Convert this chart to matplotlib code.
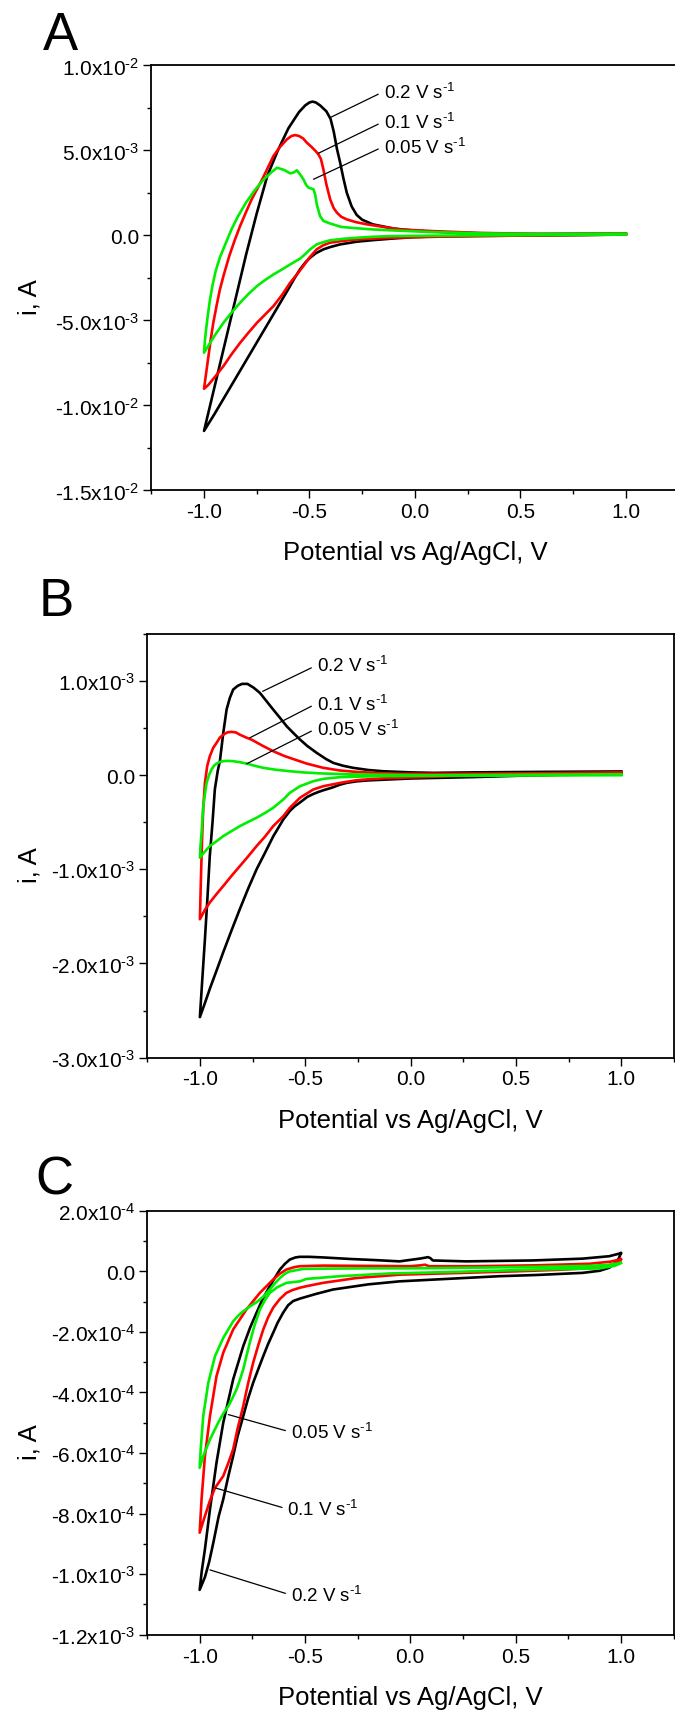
import numpy as np
import matplotlib
matplotlib.use("Agg")
import matplotlib.pyplot as plt
from matplotlib.ticker import MultipleLocator, FuncFormatter, FormatStrFormatter

plt.rcParams['font.family'] = ['Liberation Sans', 'DejaVu Sans']
plt.rcParams['mathtext.fontset'] = 'custom'
plt.rcParams['mathtext.rm'] = 'Liberation Sans'
plt.rcParams['mathtext.it'] = 'Liberation Sans:italic'
plt.rcParams['mathtext.bf'] = 'Liberation Sans:bold'
plt.rcParams['mathtext.default'] = 'regular'
plt.rcParams['axes.unicode_minus'] = False

# ---------------- DATA ----------------
rates = [r'0.2 V s$^{\text{-}1}$', r'0.1 V s$^{\text{-}1}$', r'0.05 V s$^{\text{-}1}$']

# Panel A  (current in mA)
A_black_up_x = [-1.0, -0.95, -0.9, -0.85, -0.8, -0.75, -0.7, -0.65, -0.6, -0.55, -0.52, -0.5, -0.486, -0.47, -0.45,
                -0.42, -0.40, -0.385, -0.37, -0.355, -0.34, -0.323, -0.30, -0.276, -0.25, -0.2, -0.1, 0.0, 0.2, 0.5, 1.0]
A_black_up_y = [-11.5, -8.9, -6.3, -3.7, -1.1, 1.3, 3.5, 5.0, 6.3, 7.25, 7.65, 7.82, 7.87, 7.82, 7.65,
                7.3, 6.85, 6.1, 5.1, 4.3, 3.4, 2.5, 1.7, 1.2, 0.92, 0.65, 0.4, 0.28, 0.15, 0.08, 0.1]
A_black_dn_x = [1.0, 0.6, 0.3, 0.1, 0.0, -0.1, -0.2, -0.276, -0.355, -0.4, -0.434, -0.47, -0.497, -0.52, -0.545,
                -0.57, -0.6, -0.65, -0.7, -0.75, -0.8, -0.85, -0.9, -0.95, -1.0]
A_black_dn_y = [0.05, 0.0, -0.03, -0.06, -0.1, -0.18, -0.28, -0.37, -0.53, -0.68, -0.82, -1.05, -1.31, -1.6, -2.0,
                -2.5, -3.15, -4.2, -5.25, -6.3, -7.35, -8.4, -9.45, -10.5, -11.5]

A_red_up_x = [-1.0, -0.99, -0.979, -0.968, -0.956, -0.94, -0.925, -0.908, -0.88, -0.855, -0.829, -0.8, -0.775,
              -0.749, -0.72, -0.695, -0.671, -0.64, -0.607, -0.585, -0.568, -0.55, -0.53, -0.513, -0.49, -0.47,
              -0.458, -0.446, -0.434, -0.42, -0.402, -0.385, -0.37, -0.35, -0.323, -0.28, -0.228, -0.15, -0.07,
              0.088, 0.3, 0.6, 1.0]
A_red_up_y = [-9.02, -8.1, -7.1, -6.1, -5.14, -4.1, -3.2, -2.39, -1.2, -0.3, 0.55, 1.4, 2.1,
              2.71, 3.4, 4.05, 4.67, 5.2, 5.65, 5.85, 5.9, 5.85, 5.7, 5.46, 5.2, 4.95,
              4.77, 4.5, 3.88, 3.0, 2.12, 1.6, 1.34, 1.1, 0.94, 0.78, 0.65, 0.5, 0.35,
              0.25, 0.15, 0.08, 0.1]
A_red_dn_x = [1.0, 0.6, 0.3, 0.1, -0.118, -0.2, -0.276, -0.34, -0.403, -0.435, -0.466, -0.5, -0.529, -0.56,
              -0.592, -0.63, -0.671, -0.71, -0.749, -0.79, -0.829, -0.87, -0.908, -0.95, -0.98, -1.0]
A_red_dn_y = [0.05, 0.0, -0.04, -0.08, -0.14, -0.19, -0.24, -0.32, -0.43, -0.58, -0.82, -1.3, -1.8, -2.3,
              -2.79, -3.5, -4.16, -4.65, -5.14, -5.73, -6.32, -7.0, -7.69, -8.35, -8.8, -9.02]

A_green_up_x = [-1.0, -0.996, -0.99, -0.982, -0.972, -0.96, -0.945, -0.925, -0.9, -0.87, -0.84, -0.8, -0.76,
                -0.72, -0.68, -0.654, -0.62, -0.592, -0.575, -0.56, -0.545, -0.529, -0.515, -0.505, -0.49, -0.481,
                -0.473, -0.465, -0.45, -0.434, -0.402, -0.35, -0.276, -0.2, -0.118, 0.072, 0.3, 0.6, 1.0]
A_green_up_y = [-6.9, -6.2, -5.5, -4.7, -3.8, -2.95, -2.1, -1.3, -0.55, 0.35, 1.1, 1.95, 2.65,
                3.25, 3.72, 3.98, 3.85, 3.65, 3.7, 3.83, 3.6, 3.3, 2.95, 2.81, 2.75, 2.71,
                2.4, 1.8, 1.14, 0.85, 0.7, 0.5, 0.42, 0.35, 0.3, 0.2, 0.12, 0.08, 0.1]
A_green_dn_x = [1.0, 0.6, 0.3, 0.072, -0.118, -0.2, -0.276, -0.34, -0.403, -0.435, -0.466, -0.497, -0.52, -0.545,
                -0.592, -0.63, -0.671, -0.71, -0.749, -0.79, -0.829, -0.87, -0.908, -0.95, -0.98, -1.0]
A_green_dn_y = [0.05, 0.02, 0.0, -0.02, -0.04, -0.08, -0.14, -0.2, -0.29, -0.4, -0.53, -0.82, -1.1, -1.37,
                -1.71, -2.0, -2.3, -2.62, -2.98, -3.45, -3.96, -4.55, -5.14, -5.9, -6.5, -6.9]

# Panel B  (current in mA)
B_black_up_x = [-1.0, -0.988, -0.976, -0.964, -0.953, -0.94, -0.929, -0.915, -0.905, -0.889, -0.873, -0.858, -0.842,
                -0.82, -0.8, -0.774, -0.745, -0.715, -0.685, -0.652, -0.62, -0.588, -0.555, -0.525, -0.49, -0.446,
                -0.4, -0.367, -0.32, -0.272, -0.2, -0.13, 0.0, 0.108, 0.3, 0.6, 1.0]
B_black_up_y = [-2.57, -2.15, -1.74, -1.3, -0.86, -0.5, -0.15, 0.05, 0.15, 0.45, 0.70, 0.82, 0.91,
                0.95, 0.97, 0.97, 0.93, 0.874, 0.79, 0.697, 0.61, 0.52, 0.445, 0.379, 0.31, 0.238,
                0.17, 0.131, 0.1, 0.078, 0.055, 0.042, 0.03, 0.025, 0.03, 0.035, 0.04]
B_black_dn_x = [1.0, 0.6, 0.3, 0.0, -0.1, -0.2, -0.256, -0.3, -0.335, -0.37, -0.414, -0.44, -0.462, -0.49, -0.525,
                -0.55, -0.573, -0.604, -0.652, -0.69, -0.731, -0.77, -0.81, -0.85, -0.889, -0.92, -0.953, -0.976, -1.0]
B_black_dn_y = [0.02, 0.0, -0.02, -0.035, -0.045, -0.055, -0.065, -0.08, -0.1, -0.13, -0.16, -0.18, -0.2, -0.23, -0.29,
                -0.33, -0.38, -0.47, -0.65, -0.82, -1.0, -1.2, -1.42, -1.65, -1.88, -2.07, -2.27, -2.42, -2.57]

B_red_up_x = [-1.0, -0.995, -0.99, -0.984, -0.976, -0.965, -0.953, -0.937, -0.921, -0.905, -0.889, -0.87, -0.85,
              -0.83, -0.81, -0.78, -0.755, -0.70, -0.652, -0.6, -0.573, -0.494, -0.414, -0.335, -0.256, -0.15,
              -0.05, 0.2, 0.6, 1.0]
B_red_up_y = [-1.53, -1.1, -0.7, -0.35, -0.08, 0.1, 0.2, 0.29, 0.343, 0.40, 0.43, 0.455, 0.46,
              0.455, 0.43, 0.40, 0.378, 0.31, 0.255, 0.205, 0.184, 0.124, 0.078, 0.05, 0.035, 0.022,
              0.015, 0.015, 0.02, 0.03]
B_red_dn_x = [1.0, 0.6, 0.2, 0.06, -0.098, -0.18, -0.256, -0.335, -0.414, -0.462, -0.525, -0.573, -0.604, -0.652,
              -0.69, -0.731, -0.77, -0.81, -0.85, -0.889, -0.92, -0.953, -0.976, -1.0]
B_red_dn_y = [0.01, 0.0, -0.01, -0.02, -0.03, -0.04, -0.053, -0.082, -0.117, -0.152, -0.24, -0.346, -0.435, -0.541,
              -0.65, -0.753, -0.86, -0.965, -1.07, -1.177, -1.26, -1.353, -1.43, -1.53]

B_green_up_x = [-1.0, -0.997, -0.992, -0.984, -0.976, -0.968, -0.957, -0.945, -0.933, -0.921, -0.905, -0.889, -0.865,
                -0.842, -0.81, -0.779, -0.74, -0.699, -0.64, -0.573, -0.5, -0.414, -0.256, 0.09, 0.5, 1.0]
B_green_up_y = [-0.876, -0.75, -0.611, -0.329, -0.2, -0.081, 0.0, 0.06, 0.1, 0.124, 0.14, 0.149, 0.152,
                0.149, 0.138, 0.124, 0.1, 0.078, 0.058, 0.042, 0.028, 0.018, 0.008, 0.0, 0.005, 0.01]
B_green_dn_x = [1.0, 0.5, 0.1, -0.177, -0.335, -0.414, -0.462, -0.525, -0.573, -0.604, -0.652, -0.69, -0.731, -0.77,
                -0.81, -0.85, -0.889, -0.92, -0.953, -0.976, -1.0]
B_green_dn_y = [0.0, -0.003, -0.006, -0.011, -0.021, -0.039, -0.064, -0.117, -0.187, -0.258, -0.346, -0.4, -0.452,
                -0.495, -0.541, -0.594, -0.647, -0.70, -0.753, -0.81, -0.876]

# Panel C  (current in 1e-4 A)
C_black_up_x = [-1.0, -0.99, -0.975, -0.951, -0.92, -0.888, -0.841, -0.793, -0.76, -0.73, -0.7, -0.667, -0.64, -0.619,
                -0.595, -0.572, -0.545, -0.525, -0.48, -0.414, -0.288, -0.161, -0.051, 0.044, 0.07, 0.083, 0.095,
                0.107, 0.265, 0.581, 0.818, 0.945, 1.0]
C_black_up_y = [-10.52, -9.9, -9.18, -7.86, -6.32, -5.0, -3.57, -2.47, -1.85, -1.37, -0.9, -0.49, -0.18, 0.06,
                0.25, 0.39, 0.46, 0.48, 0.48, 0.46, 0.41, 0.37, 0.33, 0.42, 0.45, 0.47, 0.44,
                0.36, 0.33, 0.36, 0.42, 0.5, 0.6]
C_black_dn_x = [1.0, 0.99, 0.97, 0.945, 0.9, 0.818, 0.6, 0.423, 0.2, -0.051, -0.2, -0.367, -0.45, -0.524, -0.556,
                -0.58, -0.604, -0.63, -0.651, -0.675, -0.698, -0.72, -0.746, -0.77, -0.793, -0.82, -0.841, -0.865,
                -0.888, -0.91, -0.935, -0.955, -0.975, -1.0]
C_black_dn_y = [0.6, 0.42, 0.25, 0.12, 0.02, -0.05, -0.12, -0.16, -0.24, -0.33, -0.43, -0.6, -0.75, -0.9, -0.98,
                -1.12, -1.37, -1.7, -2.03, -2.4, -2.8, -3.2, -3.68, -4.2, -4.78, -5.45, -6.1, -6.8,
                -7.53, -8.1, -8.96, -9.6, -10.1, -10.52]

C_red_up_x = [-1.0, -0.991, -0.975, -0.951, -0.92, -0.888, -0.841, -0.778, -0.714, -0.651, -0.62, -0.588, -0.55,
              -0.525, -0.414, -0.2, 0.0, 0.05, 0.07, 0.09, 0.3, 0.6, 0.85, 0.95, 1.0]
C_red_up_y = [-8.63, -7.53, -6.1, -4.78, -3.46, -2.69, -1.92, -1.26, -0.71, -0.27, -0.08, 0.06, 0.14,
              0.17, 0.19, 0.18, 0.17, 0.2, 0.22, 0.17, 0.17, 0.2, 0.25, 0.32, 0.4]
C_red_dn_x = [1.0, 0.99, 0.97, 0.898, 0.7, 0.5, 0.2, -0.051, -0.256, -0.414, -0.493, -0.524, -0.56, -0.588, -0.62,
              -0.651, -0.675, -0.698, -0.72, -0.746, -0.77, -0.793, -0.82, -0.841, -0.865, -0.888, -0.927, -0.95,
              -0.975, -1.0]
C_red_dn_y = [0.4, 0.32, 0.25, 0.12, 0.05, 0.0, -0.06, -0.11, -0.22, -0.38, -0.49, -0.54, -0.62, -0.71, -0.92,
              -1.2, -1.52, -1.92, -2.4, -3.02, -3.7, -4.45, -5.2, -5.88, -6.35, -6.76, -7.15, -7.55,
              -8.08, -8.63]

C_green_up_x = [-1.0, -0.995, -0.983, -0.959, -0.927, -0.888, -0.841, -0.815, -0.793, -0.76, -0.73, -0.7, -0.667,
                -0.643, -0.619, -0.595, -0.572, -0.509, -0.414, -0.2, 0.0, 0.3, 0.6, 0.85, 0.95, 1.0]
C_green_up_y = [-6.49, -5.88, -4.78, -3.68, -2.8, -2.2, -1.65, -1.45, -1.32, -1.15, -1.02, -0.85, -0.6,
                -0.4, -0.22, -0.08, 0.0, 0.08, 0.09, 0.1, 0.1, 0.12, 0.15, 0.18, 0.22, 0.28]
C_green_dn_x = [1.0, 0.99, 0.97, 0.9, 0.6, 0.2, -0.098, -0.335, -0.493, -0.524, -0.588, -0.63, -0.667, -0.69, -0.714,
                -0.74, -0.762, -0.778, -0.793, -0.81, -0.825, -0.845, -0.864, -0.888, -0.912, -0.951, -0.983, -1.0]
C_green_dn_y = [0.28, 0.24, 0.18, 0.1, 0.06, -0.02, -0.07, -0.16, -0.25, -0.33, -0.38, -0.52, -0.71, -0.95, -1.26,
                -1.8, -2.36, -2.8, -3.24, -3.6, -3.9, -4.2, -4.45, -4.7, -5.0, -5.55, -6.1, -6.49]

A_ylim = (-1.5e-2, 1.0e-2)
B_ylim = (-3.0e-3, 1.5e-3)
C_ylim = (-1.2e-3, 2.0e-4)
xlim = (-1.25, 1.25)

# ---------------- STYLE ----------------
BLACK = '#000000'
RED = '#ff0000'
GREEN = '#00ee00'
LW = 1.9

fig = plt.figure(figsize=(6.75, 17.15), dpi=100)
W, H = 675.0, 1715.0


def make_axes(left, top, right, bottom):
    return fig.add_axes([left / W, 1 - bottom / H, (right - left) / W, (bottom - top) / H])


def sci_fmt(v, pos):
    if abs(v) < 1e-12:
        return '0.0'
    e = int(np.floor(np.log10(abs(v)) + 1e-9))
    m = v / 10.0 ** e
    sign = r'\text{-}' if e < 0 else ''
    return f'{m:.1f}x10$^{{{sign}{abs(e)}}}$'


def style_axes(ax, ylim, major, minor, ylab_x):
    ax.set_xlim(*xlim)
    ax.set_ylim(*ylim)
    ax.xaxis.set_major_locator(MultipleLocator(0.5))
    ax.xaxis.set_minor_locator(MultipleLocator(0.25))
    ax.xaxis.set_major_formatter(FormatStrFormatter('%.1f'))
    ax.yaxis.set_major_locator(MultipleLocator(major))
    ax.yaxis.set_minor_locator(MultipleLocator(minor))
    ax.yaxis.set_major_formatter(FuncFormatter(sci_fmt))
    ax.tick_params(which='both', direction='out', top=False, right=False, width=1.0, pad=3,
                   labelsize=15)
    ax.tick_params(which='major', length=5.5)
    ax.tick_params(which='minor', length=3)
    for s in ax.spines.values():
        s.set_linewidth(1.3)
    ax.set_xlabel('Potential vs Ag/AgCl, V', fontsize=18.5)
    ax.set_ylabel('i, A', fontsize=18.5)
    h = ax.get_position().height * H
    ax.xaxis.set_label_coords(0.5, -50.0 / h)
    ax.yaxis.set_label_coords(ylab_x, 0.457)


def cv(ax, xu, yu, xd, yd, scale, color):
    x = np.concatenate([np.asarray(xd), np.asarray(xu)])
    y = np.concatenate([np.asarray(yd), np.asarray(yu)]) * scale
    ax.plot(x, y, color=color, lw=LW, solid_joinstyle='round')


def note(ax, text, xy, xytext):
    ax.annotate(text, xy=xy, xytext=xytext, ha='left', va='baseline', fontsize=13.5,
                arrowprops=dict(arrowstyle='-', color='k', lw=0.9, shrinkA=2, shrinkB=0,
                                relpos=(0, 0.5)))


# ---------------- PANEL A ----------------
axA = make_axes(151.3, 66.4, 678.6, 491.4)
cv(axA, A_black_up_x, A_black_up_y, A_black_dn_x, A_black_dn_y, 1e-3, BLACK)
cv(axA, A_red_up_x, A_red_up_y, A_red_dn_x, A_red_dn_y, 1e-3, RED)
cv(axA, A_green_up_x, A_green_up_y, A_green_dn_x, A_green_dn_y, 1e-3, GREEN)
style_axes(axA, A_ylim, 5e-3, 2.5e-3, (41 - 151.3) / 527.3)
note(axA, rates[0], (-0.402, 6.93e-3), (-0.149, 8.1e-3))
note(axA, rates[1], (-0.458, 4.83e-3), (-0.149, 6.34e-3))
note(axA, rates[2], (-0.481, 3.30e-3), (-0.149, 4.87e-3))

# ---------------- PANEL B ----------------
axB = make_axes(147.2, 635.0, 674.0, 1058.6)
cv(axB, B_black_up_x, B_black_up_y, B_black_dn_x, B_black_dn_y, 1e-3, BLACK)
cv(axB, B_red_up_x, B_red_up_y, B_red_dn_x, B_red_dn_y, 1e-3, RED)
cv(axB, B_green_up_x, B_green_up_y, B_green_dn_x, B_green_dn_y, 1e-3, GREEN)
style_axes(axB, B_ylim, 1e-3, 5e-4, (41 - 147.2) / 526.8)
note(axB, rates[0], (-0.702, 0.891e-3), (-0.446, 1.103e-3))
note(axB, rates[1], (-0.763, 0.397e-3), (-0.446, 0.697e-3))
note(axB, rates[2], (-0.778, 0.121e-3), (-0.446, 0.432e-3))

# ---------------- PANEL C ----------------
axC = make_axes(147.0, 1211.8, 673.5, 1635.7)
cv(axC, C_black_up_x, C_black_up_y, C_black_dn_x, C_black_dn_y, 1e-4, BLACK)
cv(axC, C_red_up_x, C_red_up_y, C_red_dn_x, C_red_dn_y, 1e-4, RED)
cv(axC, C_green_up_x, C_green_up_y, C_green_dn_x, C_green_dn_y, 1e-4, GREEN)
style_axes(axC, C_ylim, 2e-4, 1e-4, (41 - 147.0) / 526.5)
note(axC, rates[2], (-0.864, -4.73e-4), (-0.567, -5.51e-4))
note(axC, rates[1], (-0.927, -7.15e-4), (-0.583, -8.05e-4))
note(axC, rates[0], (-0.951, -9.86e-4), (-0.567, -10.89e-4))

# panel letters
for letter, xpx, ybase in [('A', 43, 50), ('B', 39, 616), ('C', 35, 1195)]:
    fig.text(xpx / W, 1 - ybase / H, letter, fontsize=38, ha='left', va='baseline')

fig.savefig('out.png', dpi=100)
